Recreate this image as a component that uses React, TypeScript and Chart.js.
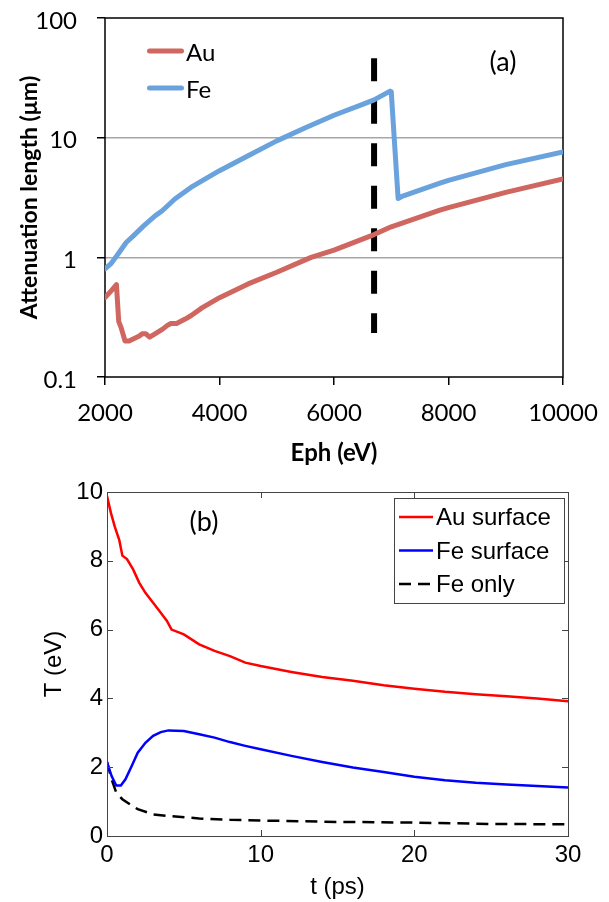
import React, { useEffect, useRef } from "react";
import { Chart, registerables } from "chart.js";

Chart.register(...registerables);

// ---------- Panel (a): attenuation length ----------
const auEnergy = [2000, 2100, 2200, 2240, 2280, 2350, 2420, 2510, 2600, 2650, 2710, 2780, 2880, 3000, 3090, 3150, 3250, 3400, 3500, 3700, 4000, 4500, 5000, 5600, 6000, 6700, 7000, 7850, 8000, 9000, 10000];
const auLength = [0.46, 0.52, 0.59, 0.29, 0.26, 0.2, 0.2, 0.21, 0.22, 0.23, 0.23, 0.215, 0.23, 0.25, 0.27, 0.28, 0.28, 0.305, 0.325, 0.38, 0.46, 0.6, 0.75, 1.0, 1.15, 1.55, 1.8, 2.48, 2.6, 3.49, 4.52];

const feEnergy = [2000, 2100, 2200, 2370, 2500, 2680, 2880, 3000, 3220, 3500, 3700, 4000, 4500, 5000, 5500, 6000, 6500, 6700, 6980, 7000, 7120, 7200, 7850, 8000, 9000, 10000];
const feLength = [0.8, 0.88, 1.02, 1.33, 1.52, 1.84, 2.23, 2.45, 3.07, 3.84, 4.37, 5.3, 7.07, 9.4, 12.1, 15.4, 19.0, 20.7, 24.5, 24.2, 3.1, 3.25, 4.17, 4.4, 5.95, 7.6];

const edgeEnergy = [6700, 6700];
const edgeLength = [46, 0.233];

const xTicksA = [2000, 4000, 6000, 8000, 10000];
const yTicksA = [0.1, 1, 10, 100];
const seriesNamesA = ["Au", "Fe"];

// ---------- Panel (b): temperature ----------
const tAu = [0, 0.25, 0.5, 0.8, 1.0, 1.3, 1.7, 2.1, 2.5, 3.0, 3.5, 3.9, 4.2, 5, 6, 7, 8, 9, 10, 12, 14, 16, 18, 20, 22, 24, 26, 28, 30];
const TAu = [9.88, 9.4, 9.0, 8.6, 8.15, 8.05, 7.75, 7.36, 7.07, 6.78, 6.49, 6.25, 6.0, 5.86, 5.57, 5.38, 5.23, 5.04, 4.94, 4.77, 4.62, 4.51, 4.38, 4.28, 4.19, 4.12, 4.06, 4.0, 3.92];

const tFe = [0, 0.3, 0.6, 0.9, 1.2, 1.6, 2.0, 2.5, 3.0, 3.5, 4, 5, 6, 7, 8, 9, 10, 12, 14, 16, 18, 20, 22, 24, 26, 28, 30];
const TFe = [2.15, 1.74, 1.47, 1.47, 1.65, 2.03, 2.42, 2.71, 2.91, 3.02, 3.07, 3.05, 2.96, 2.86, 2.73, 2.62, 2.52, 2.33, 2.15, 1.99, 1.86, 1.72, 1.62, 1.55, 1.5, 1.45, 1.41];

const tFeOnly = [0, 0.3, 0.6, 1.0, 1.5, 2, 3, 4, 6, 8, 10, 15, 20, 25, 30];
const TFeOnly = [2.15, 1.65, 1.26, 1.07, 0.92, 0.78, 0.63, 0.58, 0.51, 0.47, 0.45, 0.41, 0.39, 0.35, 0.34];

const xTicksB = [0, 10, 20, 30];
const yTicksB = [0, 2, 4, 6, 8, 10];
const seriesNamesB = ["Au surface", "Fe surface", "Fe only"];

const zip = (xs: number[], ys: number[]) => xs.map((x, i) => ({ x, y: ys[i] }));

const fontA = "Lato";
const fontB = "'Liberation Sans', Arial, sans-serif";

const panelAPlugin = {
  id: "panelA",
  beforeDatasetsDraw(chart: any) {
    const { ctx, chartArea: a } = chart;
    ctx.save();
    ctx.strokeStyle = "#000";
    ctx.lineWidth = 1.5;
    ctx.strokeRect(a.left, a.top, a.right - a.left, a.bottom - a.top);
    ctx.restore();
  },
  afterDraw(chart: any) {
    const { ctx, chartArea: a } = chart;
    ctx.save();
    for (let i = 0; i < 2; i++) {
      const ds = chart.data.datasets[i];
      const y = a.top + 33 + i * 37;
      ctx.strokeStyle = ds.borderColor;
      ctx.lineWidth = 5;
      ctx.lineCap = "round";
      ctx.beginPath();
      ctx.moveTo(a.left + 44.5, y);
      ctx.lineTo(a.left + 76.5, y);
      ctx.stroke();
      ctx.fillStyle = "#000";
      ctx.font = `24px ${fontA}`;
      ctx.textBaseline = "middle";
      ctx.textAlign = "left";
      ctx.fillText(ds.label, a.left + 81, y + 2);
    }
    ctx.font = `27px ${fontA}`;
    ctx.textAlign = "center";
    ctx.textBaseline = "middle";
    ctx.fillText("(a)", a.right - 60, a.top + 44);
    ctx.restore();
  },
};

const panelBPlugin = {
  id: "panelB",
  afterDraw(chart: any) {
    const { ctx, chartArea: a, scales } = chart;
    const xs = scales.x;
    const ys = scales.y;
    ctx.save();
    ctx.strokeStyle = "#444";
    ctx.lineWidth = 1;
    ctx.beginPath();
    xs.ticks.forEach((t: any) => {
      const px = Math.round(xs.getPixelForValue(t.value)) + 0.5;
      ctx.moveTo(px, a.bottom);
      ctx.lineTo(px, a.bottom - 6);
      ctx.moveTo(px, a.top);
      ctx.lineTo(px, a.top + 6);
    });
    ys.ticks.forEach((t: any) => {
      const py = Math.round(ys.getPixelForValue(t.value)) + 0.5;
      ctx.moveTo(a.left, py);
      ctx.lineTo(a.left + 6, py);
      ctx.moveTo(a.right, py);
      ctx.lineTo(a.right - 6, py);
    });
    ctx.stroke();
    ctx.strokeRect(Math.round(a.left) + 0.5, Math.round(a.top) + 0.5, Math.round(a.right - a.left), Math.round(a.bottom - a.top));

    // legend box
    const bx = a.right - 174;
    const by = a.top + 6;
    ctx.fillStyle = "#fff";
    ctx.fillRect(bx, by, 170, 105);
    ctx.strokeStyle = "#444";
    ctx.strokeRect(bx + 0.5, by + 0.5, 170, 105);
    chart.data.datasets.forEach((ds: any, i: number) => {
      const y = by + 19 + i * 33.5;
      ctx.strokeStyle = ds.borderColor;
      ctx.lineWidth = ds.borderWidth;
      ctx.setLineDash(ds.borderDash || []);
      ctx.beginPath();
      ctx.moveTo(bx + 5, y);
      ctx.lineTo(bx + 39, y);
      ctx.stroke();
      ctx.setLineDash([]);
      ctx.fillStyle = "#000";
      ctx.font = `24px ${fontB}`;
      ctx.textAlign = "left";
      ctx.textBaseline = "middle";
      ctx.fillText(ds.label, bx + 42, y + 1.5);
    });

    ctx.font = `27px ${fontA}`;
    ctx.fillStyle = "#000";
    ctx.textAlign = "center";
    ctx.textBaseline = "middle";
    ctx.fillText("(b)", a.left + 97, a.top + 30);
    ctx.restore();
  },
};

function makeConfigA(): any {
  return {
    type: "line",
    data: {
      datasets: [
        {
          label: seriesNamesA[0],
          data: zip(auEnergy, auLength),
          borderColor: "#CF665F",
          borderWidth: 5,
          pointRadius: 0,
          tension: 0,
          borderJoinStyle: "round",
          borderCapStyle: "round",
        },
        {
          label: seriesNamesA[1],
          data: zip(feEnergy, feLength),
          borderColor: "#6AA2DD",
          borderWidth: 5,
          pointRadius: 0,
          tension: 0,
          borderJoinStyle: "round",
          borderCapStyle: "round",
        },
        {
          label: "",
          data: zip(edgeEnergy, edgeLength),
          borderColor: "#000",
          borderWidth: 6,
          borderDash: [23, 19.5],
          pointRadius: 0,
          borderCapStyle: "butt",
        },
      ],
    },
    options: {
      responsive: false,
      devicePixelRatio: 1,
      animation: false,
      layout: { padding: { top: 18, right: 46, left: 0, bottom: 0 } },
      plugins: { legend: { display: false }, tooltip: { enabled: false } },
      scales: {
        x: {
          type: "linear",
          min: 2000,
          max: 10000,
          afterBuildTicks: (s: any) => {
            s.ticks = xTicksA.map((v) => ({ value: v }));
          },
          afterFit: (s: any) => {
            s.height = 93;
            s.paddingLeft = 0;
            s.paddingRight = 0;
          },
          ticks: {
            callback: (v: any) => String(v),
            font: { family: fontA, size: 24 },
            color: "#000",
            padding: 14,
            maxRotation: 0,
            autoSkip: false,
          },
          grid: { drawOnChartArea: false, tickLength: 8, tickColor: "#000", tickWidth: 1.5, color: "#000", lineWidth: 1.5 },
          border: { display: false },
          title: {
            display: true,
            text: "Eph (eV)",
            font: { family: fontA, size: 24, weight: "bold" },
            color: "#000",
            padding: { top: 0, bottom: 2 },
          },
        },
        y: {
          type: "logarithmic",
          min: 0.1,
          max: 100,
          afterBuildTicks: (s: any) => {
            s.ticks = yTicksA.map((v) => ({ value: v }));
          },
          afterFit: (s: any) => {
            s.width = 105;
            s.paddingTop = 0;
            s.paddingBottom = 0;
          },
          ticks: {
            callback: (v: any) => String(v),
            font: { family: fontA, size: 24 },
            color: "#000",
            padding: 20,
            labelOffset: 3,
            autoSkip: false,
          },
          grid: {
            color: (c: any) =>
              c.tick && (c.tick.value === 1 || c.tick.value === 10) ? "#A6A6A6" : "rgba(0,0,0,0)",
            lineWidth: 1.5,
            tickColor: "#000",
            tickLength: 8,
            tickWidth: 1.5,
          },
          border: { display: false },
          title: {
            display: true,
            text: "Attenuation length (μm)",
            font: { family: fontA, size: 23, weight: "bold" },
            color: "#000",
            padding: { top: 16, bottom: 0 },
          },
        },
      },
    },
    plugins: [panelAPlugin],
  };
}

function makeConfigB(): any {
  return {
    type: "line",
    data: {
      datasets: [
        {
          label: seriesNamesB[0],
          data: zip(tAu, TAu),
          borderColor: "#FF0000",
          borderWidth: 2.5,
          pointRadius: 0,
          tension: 0,
        },
        {
          label: seriesNamesB[1],
          data: zip(tFe, TFe),
          borderColor: "#0000FF",
          borderWidth: 2.5,
          pointRadius: 0,
          tension: 0,
        },
        {
          label: seriesNamesB[2],
          data: zip(tFeOnly, TFeOnly),
          borderColor: "#000000",
          borderWidth: 2.5,
          borderDash: [12, 7],
          pointRadius: 0,
          tension: 0,
        },
      ],
    },
    options: {
      responsive: false,
      devicePixelRatio: 1,
      animation: false,
      layout: { padding: { top: 22, right: 41, left: 0, bottom: 0 } },
      plugins: { legend: { display: false }, tooltip: { enabled: false } },
      scales: {
        x: {
          type: "linear",
          min: 0,
          max: 30,
          afterBuildTicks: (s: any) => {
            s.ticks = xTicksB.map((v) => ({ value: v }));
          },
          afterFit: (s: any) => {
            s.height = 66;
            s.paddingLeft = 0;
            s.paddingRight = 0;
          },
          ticks: {
            callback: (v: any) => String(v),
            font: { family: fontB, size: 24 },
            color: "#000",
            padding: 5,
            maxRotation: 0,
            autoSkip: false,
          },
          grid: { display: false, drawTicks: false },
          border: { display: false },
          title: {
            display: true,
            text: "t (ps)",
            font: { family: fontB, size: 24 },
            color: "#000",
            padding: { top: 0, bottom: 0 },
          },
        },
        y: {
          type: "linear",
          min: 0,
          max: 10,
          afterBuildTicks: (s: any) => {
            s.ticks = yTicksB.map((v) => ({ value: v }));
          },
          afterFit: (s: any) => {
            s.width = 107;
            s.paddingTop = 0;
            s.paddingBottom = 0;
          },
          ticks: {
            callback: (v: any) => String(v),
            font: { family: fontB, size: 24 },
            color: "#000",
            padding: 4,
            autoSkip: false,
          },
          grid: { display: false, drawTicks: false },
          border: { display: false },
          title: {
            display: true,
            text: "T (eV)",
            font: { family: fontB, size: 24 },
            color: "#000",
            padding: { top: 40, bottom: 0 },
          },
        },
      },
    },
    plugins: [panelBPlugin],
  };
}

export default function App() {
  const refA = useRef<HTMLCanvasElement>(null);
  const refB = useRef<HTMLCanvasElement>(null);

  useEffect(() => {
    const a = new Chart(refA.current as HTMLCanvasElement, makeConfigA());
    const b = new Chart(refB.current as HTMLCanvasElement, makeConfigB());
    return () => {
      a.destroy();
      b.destroy();
    };
  }, []);

  return (
    <div style={{ position: "absolute", left: 0, top: 0, width: 609, height: 902, background: "#fff" }}>
      <canvas
        ref={refA}
        width={609}
        height={470}
        style={{ position: "absolute", left: 0, top: 0, width: 609, height: 470 }}
      />
      <canvas
        ref={refB}
        width={609}
        height={432}
        style={{ position: "absolute", left: 0, top: 470, width: 609, height: 432 }}
      />
    </div>
  );
}
